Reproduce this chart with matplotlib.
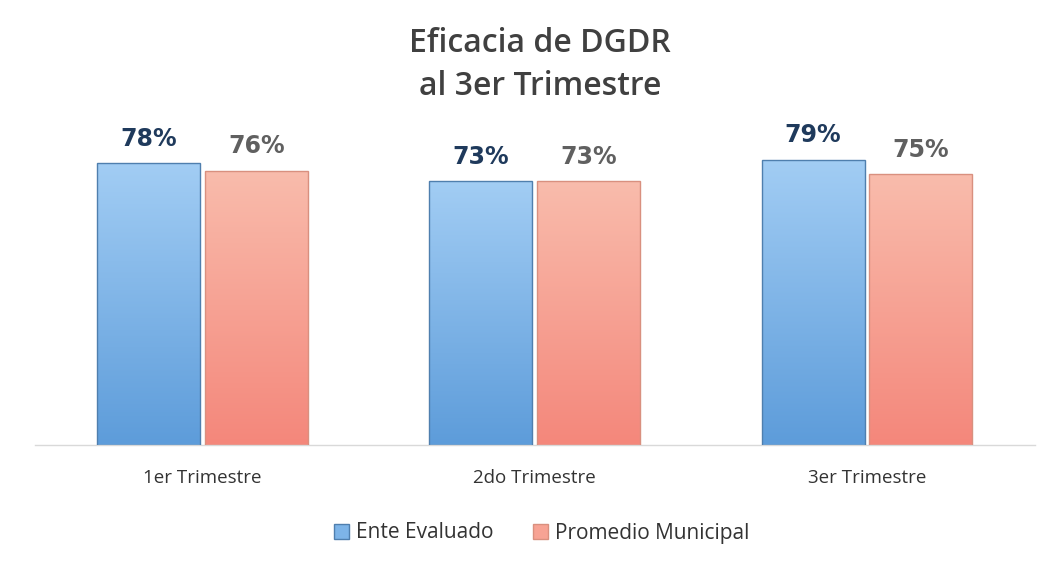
import matplotlib
matplotlib.use("Agg")
import matplotlib.pyplot as plt
import numpy as np
from matplotlib.colors import LinearSegmentedColormap
from matplotlib.patches import Patch

categories = ["1er Trimestre", "2do Trimestre", "3er Trimestre"]
ente = [78, 73, 79]
promedio = [76, 73, 75]
series_names = ["Ente Evaluado", "Promedio Municipal"]
title_lines = ["Eficacia de DGDR", "al 3er Trimestre"]

plt.rcParams['font.family'] = ['Open Sans', 'DejaVu Sans']

fig = plt.figure(figsize=(10.5, 5.62), dpi=100)
ax = fig.add_axes([35/1050, (562-445)/562, (1035-35)/1050, (445-120)/562])

x = np.arange(len(categories))
w = 0.31
off = 0.162

blue_cmap = LinearSegmentedColormap.from_list("b", ["#5d9cda", "#a2cdf4"])
red_cmap = LinearSegmentedColormap.from_list("r", ["#f4877b", "#f9bcac"])

b1 = ax.bar(x - off, ente, w, color="none", edgecolor="#4f7fae", linewidth=1.0, zorder=3)
b2 = ax.bar(x + off, promedio, w, color="none", edgecolor="#d9907f", linewidth=1.0, zorder=3)

grad = np.linspace(0, 1, 256).reshape(-1, 1)
for bars, cmap in ((b1, blue_cmap), (b2, red_cmap)):
    for p in bars:
        x0, y0 = p.get_x(), p.get_y()
        im = ax.imshow(grad, extent=[x0, x0 + p.get_width(), y0, y0 + p.get_height()],
                       origin="lower", cmap=cmap, aspect="auto", zorder=2)
        im.set_clip_path(p)

ax.set_xlim(-0.504, 2.506)
ax.set_ylim(0, 90)

for p, v in zip(b1, ente):
    ax.annotate(f"{v}%", (p.get_x() + p.get_width()/2, v), xytext=(0, 9),
                textcoords="offset points", ha="center", va="bottom",
                fontsize=17, fontweight="bold", color="#1f3a5c", family="DejaVu Sans")
for p, v in zip(b2, promedio):
    ax.annotate(f"{v}%", (p.get_x() + p.get_width()/2, v), xytext=(0, 9),
                textcoords="offset points", ha="center", va="bottom",
                fontsize=17, fontweight="bold", color="#606060", family="DejaVu Sans")

ax.set_xticks(x)
ax.set_xticklabels(categories, fontsize=13.5, color="#333333", fontweight="medium")
ax.tick_params(axis="x", length=0, pad=17)
ax.set_yticks([])
for s in ["top", "right", "left"]:
    ax.spines[s].set_visible(False)
ax.spines["bottom"].set_color("#d9d9d9")
ax.spines["bottom"].set_linewidth(1.0)

fig.text(0.514, 1 - 43/562, title_lines[0], ha="center", va="center", fontsize=23,
         color="#404040", fontweight="semibold")
fig.text(0.514, 1 - 86/562, title_lines[1], ha="center", va="center", fontsize=23,
         color="#404040", fontweight="semibold")

handles = [Patch(facecolor="#7db4e8", edgecolor="#4f7fae"),
           Patch(facecolor="#f7a394", edgecolor="#d9907f")]
fig.legend(handles, series_names, loc="center", bbox_to_anchor=(0.516, 1 - 533/562),
           ncol=2, frameon=False, fontsize=15, handlelength=0.7, handleheight=0.7,
           handletextpad=0.35, columnspacing=1.9, labelcolor="#333333")

fig.savefig("out.png", dpi=100, facecolor="white")
